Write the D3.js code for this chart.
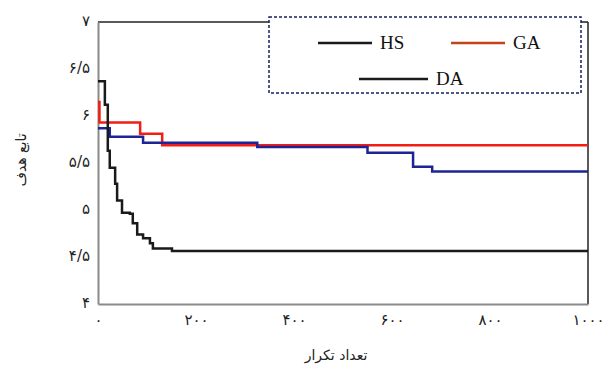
<!DOCTYPE html>
<html>
<head>
<meta charset="utf-8">
<script src="https://cdn.jsdelivr.net/npm/d3@7"></script>
<style>
  body { margin: 0; background: #fff; }
  svg { display: block; }
</style>
</head>
<body>
<script>
// iteration, objective value
var hsData = [[0, 6.37], [14, 6.12], [20, 5.63], [24, 5.45], [35, 5.28], [39, 5.10], [49, 4.97],
              [65, 4.96], [71, 4.86], [80, 4.74], [92, 4.70], [106, 4.645], [112, 4.59], [151, 4.565], [1000, 4.565]];
var gaData = [[0, 6.15], [3, 5.93], [86, 5.81], [131, 5.69], [1000, 5.69]];
var daData = [[0, 5.87], [24, 5.78], [92, 5.715], [325, 5.67], [550, 5.61], [643, 5.46], [682, 5.41], [1000, 5.41]];

var xTicks = [0, 200, 400, 600, 800, 1000];
var yTicks = [4, 4.5, 5, 5.5, 6, 6.5, 7];
var legendNames = ["HS", "GA", "DA"];

var width = 604, height = 370;
var pLeft = 98, pRight = 588, pTop = 22, pBottom = 304;

function fa(v) {
  return String(v).replace(".", "/").replace(/[0-9]/g, function(c) { return "۰۱۲۳۴۵۶۷۸۹"[+c]; });
}

var x = d3.scaleLinear().domain([0, 1000]).range([pLeft, pRight]);
var y = d3.scaleLinear().domain([4, 7]).range([pBottom, pTop]);

var svg = d3.select("body").append("svg")
    .attr("width", width)
    .attr("height", height);

// frame: black top and right, grey axes
svg.append("line").attr("x1", pLeft).attr("x2", pRight).attr("y1", pTop).attr("y2", pTop)
    .attr("stroke", "#222").attr("stroke-width", 1.5);
svg.append("line").attr("x1", pRight).attr("x2", pRight).attr("y1", pTop).attr("y2", pBottom)
    .attr("stroke", "#222").attr("stroke-width", 1.5);

var xAxis = d3.axisBottom(x).tickValues(xTicks).tickSize(0).tickPadding(10).tickFormat(fa);
var yAxis = d3.axisLeft(y).tickValues(yTicks).tickSize(0).tickPadding(8).tickFormat(fa);

var gx = svg.append("g").attr("transform", "translate(0," + pBottom + ")").call(xAxis);
var gy = svg.append("g").attr("transform", "translate(" + pLeft + ",0)").call(yAxis);

[gx, gy].forEach(function(g) {
  g.select(".domain").attr("stroke", "#8a8a8a").attr("stroke-width", 2);
  g.selectAll("text").attr("font-family", "DejaVu Sans").attr("font-size", 15).attr("fill", "#222");
});
gy.selectAll("text").attr("dy", "0.2em");

var line = d3.line()
    .x(function(d) { return x(d[0]); })
    .y(function(d) { return y(d[1]); })
    .curve(d3.curveStepAfter);

svg.append("path").datum(gaData).attr("d", line)
    .attr("fill", "none").attr("stroke", "#f01e14").attr("stroke-width", 2.5);
svg.append("path").datum(daData).attr("d", line)
    .attr("fill", "none").attr("stroke", "#1c2496").attr("stroke-width", 2.5);
svg.append("path").datum(hsData).attr("d", line)
    .attr("fill", "none").attr("stroke", "#1a1a1a").attr("stroke-width", 2.5);

// legend
var lg = svg.append("g");
lg.append("rect").attr("x", 269).attr("y", 17).attr("width", 312).attr("height", 76)
    .attr("fill", "#fff").attr("stroke", "#1a1f5e").attr("stroke-width", 1.5)
    .attr("stroke-dasharray", "3,2");

var legendItems = [
  {name: legendNames[0], x1: 318, x2: 372, y: 43, color: "#1a1a1a"},
  {name: legendNames[1], x1: 451, x2: 505, y: 43, color: "#c2461c"},
  {name: legendNames[2], x1: 359, x2: 428, y: 79, color: "#1a1a1a"}
];
legendItems.forEach(function(d) {
  lg.append("line").attr("x1", d.x1).attr("x2", d.x2).attr("y1", d.y).attr("y2", d.y)
      .attr("stroke", d.color).attr("stroke-width", 2.5);
  lg.append("text").attr("x", d.x2 + 8).attr("y", d.y + 6)
      .attr("font-family", "Liberation Serif").attr("font-size", 19).attr("fill", "#111")
      .text(d.name);
});

// axis titles
svg.append("text").attr("x", 336).attr("y", 360).attr("text-anchor", "middle")
    .attr("font-family", "DejaVu Sans").attr("font-size", 14).attr("fill", "#222")
    .text("تعداد تکرار");
svg.append("text").attr("transform", "translate(26,160) rotate(-90)").attr("text-anchor", "middle")
    .attr("font-family", "DejaVu Sans").attr("font-size", 14).attr("fill", "#222")
    .text("تابع هدف");
</script>
</body>
</html>
